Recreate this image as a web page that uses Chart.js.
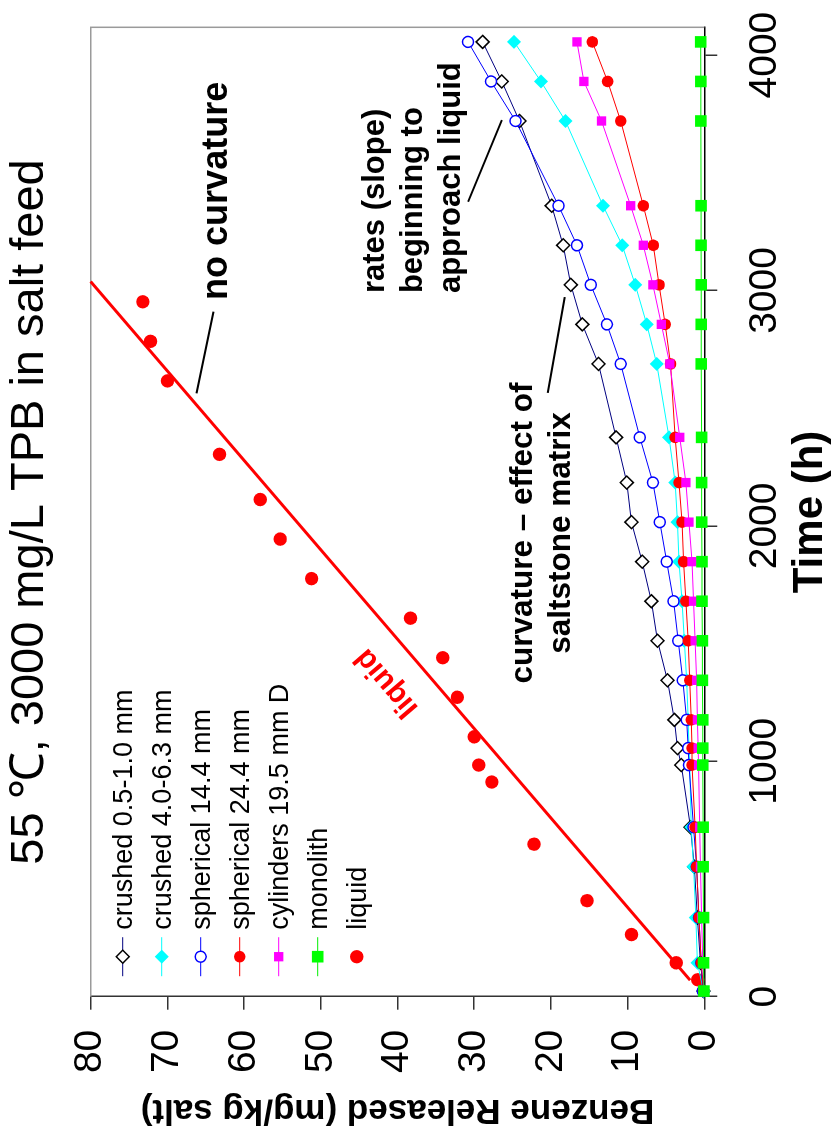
<!DOCTYPE html>
<html>
<head>
<meta charset="utf-8">
<script src="https://cdn.jsdelivr.net/npm/chart.js@4/dist/chart.umd.min.js"></script>
<style>
  html, body { margin: 0; padding: 0; background: #fff; overflow: hidden; width: 836px; height: 1140px; }
  #wrap { position: absolute; left: 0; top: 0; width: 1140px; height: 836px;
          transform-origin: 0 0; transform: translate(0px, 1140px) rotate(-90deg); }
  canvas { display: block; }
</style>
</head>
<body>
<div id="wrap"><canvas id="c" width="1140" height="836"></canvas></div>
<script>
// Sampling times (h) shared by the saltstone samples
const timesH = [24, 144, 336, 552, 720, 984, 1056, 1176, 1344, 1512, 1680, 1848, 2016, 2184, 2376, 2688, 2856, 3024, 3192, 3360, 3720, 3888, 4056];

// Benzene released (mg/kg salt) per sample type
const crushedFine    = [0.1, 0.5, 0.9, 1.3, 1.8, 3.0, 3.5, 3.9, 4.8, 6.1, 6.9, 8.1, 9.5, 10.1, 11.5, 13.8, 15.9, 17.4, 18.4, 19.9, 24.1, 26.4, 28.9];
const crushedCoarse  = [0.1, 0.9, 1.1, 1.4, 1.7, 1.9, 2.0, 2.1, 2.3, 2.6, 2.9, 3.3, 3.5, 3.8, 4.6, 6.2, 7.5, 9.0, 10.7, 13.2, 18.1, 21.3, 24.8];
const spherical14    = [0.2, 0.4, 0.7, 1.0, 1.4, 2.0, 2.1, 2.3, 2.8, 3.4, 4.0, 4.9, 5.8, 6.7, 8.4, 10.9, 12.7, 14.8, 16.6, 19.0, 24.6, 27.8, 30.8];
const spherical24    = [0.1, 0.4, 0.7, 1.0, 1.2, 1.6, 1.6, 1.7, 1.9, 2.1, 2.4, 2.7, 2.9, 3.3, 3.8, 4.4, 5.1, 5.9, 6.65, 7.95, 10.9, 12.6, 14.6];
const cylinders19    = [0.05, 0.2, 0.35, 0.5, 0.6, 0.75, 0.8, 0.9, 1.0, 1.2, 1.4, 1.6, 2.0, 2.4, 3.2, 4.5, 5.6, 6.7, 7.95, 9.6, 13.4, 15.7, 16.6];
const monolith       = [0.05, 0.1, 0.1, 0.15, 0.15, 0.2, 0.2, 0.2, 0.25, 0.25, 0.3, 0.3, 0.34, 0.35, 0.35, 0.4, 0.4, 0.4, 0.42, 0.42, 0.45, 0.45, 0.47];

// Liquid (salt solution) run
const liquidTimesH = [72, 144, 264, 408, 648, 912, 984, 1104, 1272, 1440, 1608, 1776, 1944, 2112, 2304, 2616, 2784, 2952];
const liquidValues = [0.86, 3.65, 9.5, 15.3, 22.2, 27.7, 29.4, 30.0, 32.2, 34.1, 38.3, 51.2, 55.3, 57.9, 63.2, 70.0, 72.2, 73.2];

// Straight-line fit through the liquid run
const fitTimesH = [70, 3038];
const fitValues = [1.85, 80];

// Axis ticks
const timeTicks = [0, 1000, 2000, 3000, 4000];
const benzeneTicks = [0, 10, 20, 30, 40, 50, 60, 70, 80];

const FONT = "'Liberation Sans', Arial, Helvetica, sans-serif";
const pts = (xs, ys) => xs.map((x, i) => ({ x: x, y: ys[i] }));

const datasets = [
  { label: 'crushed 0.5-1.0 mm', data: pts(timesH, crushedFine), showLine: true, borderColor: '#000080', borderWidth: 1,
    pointStyle: 'rectRot', pointRadius: 6.5, pointBackgroundColor: '#ffffff', pointBorderColor: '#000000', pointBorderWidth: 1.5, order: 5 },
  { label: 'crushed 4.0-6.3 mm', data: pts(timesH, crushedCoarse), showLine: true, borderColor: '#00ffff', borderWidth: 1,
    pointStyle: 'rectRot', pointRadius: 7, pointBackgroundColor: '#00ffff', pointBorderColor: '#00ffff', pointBorderWidth: 0, order: 4 },
  { label: 'spherical 14.4 mm', data: pts(timesH, spherical14), showLine: true, borderColor: '#0000ff', borderWidth: 1,
    pointStyle: 'circle', pointRadius: 5.5, pointBackgroundColor: '#ffffff', pointBorderColor: '#0000ff', pointBorderWidth: 1.5, order: 3 },
  { label: 'spherical 24.4 mm', data: pts(timesH, spherical24), showLine: true, borderColor: '#ff0000', borderWidth: 1,
    pointStyle: 'circle', pointRadius: 5.8, pointBackgroundColor: '#ff0000', pointBorderColor: '#ff0000', pointBorderWidth: 0, order: 2 },
  { label: 'cylinders 19.5 mm D', data: pts(timesH, cylinders19), showLine: true, borderColor: '#ff00ff', borderWidth: 1,
    pointStyle: 'rect', pointRadius: 6.6, pointBackgroundColor: '#ff00ff', pointBorderColor: '#ff00ff', pointBorderWidth: 0, order: 1 },
  { label: 'monolith', data: pts(timesH, monolith), showLine: true, borderColor: '#00ee00', borderWidth: 1,
    pointStyle: 'rect', pointRadius: 8.2, pointBackgroundColor: '#00ff00', pointBorderColor: '#00ff00', pointBorderWidth: 0, order: 0 },
  { label: 'liquid', data: pts(liquidTimesH, liquidValues), showLine: false,
    pointStyle: 'circle', pointRadius: 6.7, pointBackgroundColor: '#ff0000', pointBorderColor: '#ff0000', pointBorderWidth: 0, order: 6 },
  { label: 'fit', data: pts(fitTimesH, fitValues), showLine: true, borderColor: '#ff0000', borderWidth: 3,
    pointRadius: 0, order: 7 }
];
datasets.forEach(d => { d.clip = false; d.tension = 0; d.pointHoverRadius = d.pointRadius; });

// Callout texts (anchored in data units: time h, benzene mg/kg)
const notes = [
  { lines: ['no curvature'], t: 2960, b: 62.2, size: 36, align: 'left' },
  { lines: ['rates (slope)', 'beginning to', 'approach liquid'], t: 2989, b: 41.8, size: 31, align: 'left' },
  { lines: ['curvature \u2013 effect of', 'saltstone matrix'], t: 1970, b: 22.5, size: 31.5, align: 'center' }
];
const pointers = [
  { t1: 2910, b1: 64.0, t2: 2563, b2: 66.2 },
  { t1: 3724, b1: 26.4, t2: 3377, b2: 30.8 },
  { t1: 2972, b1: 18.2, t2: 2565, b2: 20.4 }
];
const fitLabel = { text: 'liquid', t: 1333, b: 41.4, size: 30 };

const framePlugin = {
  id: 'frame',
  beforeDatasetsDraw(chart) {
    const { ctx, chartArea: a } = chart;
    ctx.save();
    ctx.strokeStyle = '#9a9a9a';
    ctx.lineWidth = 1.5;
    ctx.beginPath();
    ctx.moveTo(a.left, a.top);
    ctx.lineTo(a.right, a.top);
    ctx.lineTo(a.right, a.bottom);
    ctx.stroke();
    ctx.restore();
  }
};

const notesPlugin = {
  id: 'notes',
  afterDatasetsDraw(chart) {
    const { ctx, chartArea: a } = chart;
    const xs = chart.scales.x, ys = chart.scales.y;
    ctx.save();
    // callout leader lines
    ctx.strokeStyle = '#000';
    ctx.lineWidth = 2;
    pointers.forEach(p => {
      ctx.beginPath();
      ctx.moveTo(xs.getPixelForValue(p.t1), ys.getPixelForValue(p.b1));
      ctx.lineTo(xs.getPixelForValue(p.t2), ys.getPixelForValue(p.b2));
      ctx.stroke();
    });
    // callout texts
    ctx.fillStyle = '#000';
    ctx.textBaseline = 'alphabetic';
    notes.forEach(n => {
      ctx.font = 'bold ' + n.size + 'px ' + FONT;
      ctx.textAlign = n.align;
      const x = xs.getPixelForValue(n.t);
      const y0 = ys.getPixelForValue(n.b);
      n.lines.forEach((s, i) => ctx.fillText(s, x, y0 + i * 38));
    });
    // label along the fitted line
    const fx1 = xs.getPixelForValue(fitTimesH[0]), fy1 = ys.getPixelForValue(fitValues[0]);
    const fx2 = xs.getPixelForValue(fitTimesH[1]), fy2 = ys.getPixelForValue(fitValues[1]);
    const ang = Math.atan2(fy2 - fy1, fx2 - fx1);
    ctx.save();
    ctx.translate(xs.getPixelForValue(fitLabel.t), ys.getPixelForValue(fitLabel.b));
    ctx.rotate(ang);
    ctx.font = 'bold ' + fitLabel.size + 'px ' + FONT;
    ctx.fillStyle = '#ff0000';
    ctx.textAlign = 'center';
    ctx.textBaseline = 'middle';
    ctx.fillText(fitLabel.text, 0, 0);
    ctx.restore();

    // legend inside the plot
    const lx = a.left + 40, ly = a.top + 32, step = 39;
    ctx.font = '27px ' + FONT;
    ctx.textAlign = 'left';
    ctx.textBaseline = 'alphabetic';
    datasets.slice(0, 7).forEach((d, i) => {
      const y = ly + i * step;
      if (d.showLine) {
        ctx.strokeStyle = d.borderColor;
        ctx.lineWidth = 1;
        ctx.beginPath();
        ctx.moveTo(lx - 19.5, y);
        ctx.lineTo(lx + 19.5, y);
        ctx.stroke();
      }
      ctx.fillStyle = d.pointBackgroundColor;
      ctx.strokeStyle = d.pointBorderColor;
      ctx.lineWidth = d.pointBorderWidth;
      Chart.helpers.drawPoint(ctx, { pointStyle: d.pointStyle, radius: d.pointRadius, rotation: 0, borderWidth: d.pointBorderWidth }, lx, y);
      ctx.fillStyle = '#000';
      ctx.fillText(d.label, lx + 27, y + 9);
    });
    ctx.restore();
  }
};

new Chart(document.getElementById('c'), {
  type: 'scatter',
  data: { datasets: datasets },
  options: {
    responsive: false,
    animation: false,
    devicePixelRatio: 1,
    events: [],
    layout: { padding: { left: 0, right: 27.3, top: 0, bottom: 0 } },
    plugins: {
      legend: { display: false },
      tooltip: { enabled: false },
      title: {
        display: true,
        fullSize: false,
        text: '55 \u2103, 3000 mg/L TPB in salt feed',
        color: '#000',
        font: { family: FONT, size: 47, weight: 'normal' },
        padding: { top: 1.7, bottom: 32.6 }
      }
    },
    scales: {
      x: {
        type: 'linear', min: 0, max: 4118,
        afterBuildTicks: s => { s.ticks = timeTicks.map(v => ({ value: v })); },
        afterFit: s => { s.height = 131.7; s.paddingLeft = 0; s.paddingRight = 0; },
        grid: { display: true, drawOnChartArea: false, drawTicks: true, tickLength: 13, color: '#333', lineWidth: 1.5 },
        border: { display: true, color: '#000', width: 1.5 },
        ticks: { autoSkip: false, maxRotation: 0, minRotation: 0, padding: 25, color: '#000',
                 font: { family: FONT, size: 39 }, callback: v => String(v) },
        title: { display: true, text: 'Time (h)', color: '#000',
                 font: { family: FONT, size: 42, weight: 'bold' }, padding: { top: 0, bottom: 0 } }
      },
      y: {
        type: 'linear', min: 0, max: 80,
        afterBuildTicks: s => { s.ticks = benzeneTicks.map(v => ({ value: v })); },
        afterFit: s => { s.width = 143.3; s.paddingTop = 0; s.paddingBottom = 0; },
        grid: { display: true, drawOnChartArea: false, drawTicks: true, tickLength: 13, color: '#333', lineWidth: 1.5 },
        border: { display: true, color: '#333', width: 1.5 },
        ticks: { autoSkip: false, padding: 20, color: '#000',
                 font: { family: FONT, size: 39 }, callback: v => String(v) },
        title: { display: true, text: 'Benzene Released (mg/kg salt)', color: '#000',
                 font: { family: FONT, size: 35, weight: 'bold' }, padding: { top: 9, bottom: 0 } }
      }
    }
  },
  plugins: [framePlugin, notesPlugin]
});
</script>
</body>
</html>
